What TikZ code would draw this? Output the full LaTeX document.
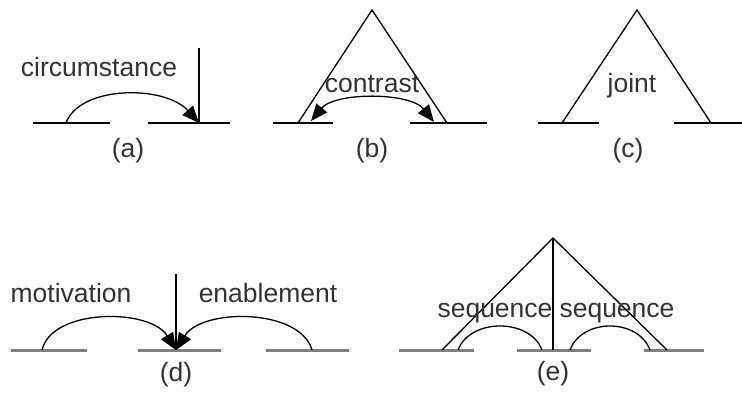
\documentclass[tikz,border=0pt]{standalone}
\usepackage{fontspec}
\setmainfont{Liberation Sans}
\usetikzlibrary{arrows.meta}
\begin{document}
\begin{tikzpicture}[x=1pt,y=-1pt,
  lbl/.style={font=\fontsize{26.5}{30}\selectfont, text=black!80, inner sep=0pt},
  baseA/.style={line width=1.9pt, black},
  baseB/.style={line width=3pt, black!50},
  ln/.style={line width=1.3pt, black},
  arr/.style={ln, -{Triangle[length=17pt,width=14pt]}},
  darr/.style={ln, {Triangle[length=17pt,width=14pt]}-{Triangle[length=17pt,width=14pt]}}]
\useasboundingbox (0,0) rectangle (742,398);
% ---------- (a)
\coordinate (a1) at (33,123); \coordinate (a2) at (110,123);
\coordinate (a3) at (148,123); \coordinate (a4) at (230,123);
\coordinate (aS) at (66,123); \coordinate (aT) at (199,123);
\coordinate (aTop) at (199,48);
\draw[baseA] (a1) -- (a2);
\draw[baseA] (a3) -- (a4);
\draw[ln] (aTop) -- (aT);
\draw[arr] (aS) .. controls (80,85) and (165,85) .. (aT);
\node[lbl] (circ) at (99,67) {circumstance};
\node[lbl] (la) at (128,151) {(a)};
% ---------- (b)
\coordinate (b1) at (273,123); \coordinate (b2) at (333,123);
\coordinate (b3) at (410,123); \coordinate (b4) at (487,123);
\coordinate (bA) at (372,10); \coordinate (bL) at (298,123); \coordinate (bR) at (447,123);
\coordinate (bS) at (311,121); \coordinate (bE) at (434,122);
\draw[baseA] (b1) -- (b2);
\draw[baseA] (b3) -- (b4);
\draw[ln] (bL) -- (bA) -- (bR);
\draw[darr] (bS) .. controls (335,92) and (410,92) .. (bE);
\node[lbl] (contr) at (372,84) {contrast};
\node[lbl] (lb) at (372,151) {(b)};
% ---------- (c)
\coordinate (c1) at (538,123); \coordinate (c2) at (599,123);
\coordinate (c3) at (674,123); \coordinate (c4) at (742,123);
\coordinate (cA) at (637,10); \coordinate (cL) at (562,123); \coordinate (cR) at (711,123);
\draw[baseA] (c1) -- (c2);
\draw[baseA] (c3) -- (c4);
\draw[ln] (cL) -- (cA) -- (cR);
\node[lbl] (joint) at (632,86) {joint};
\node[lbl] (lc) at (628,151) {(c)};
% ---------- (d)
\coordinate (d1) at (11,350); \coordinate (d2) at (87,350);
\coordinate (d3) at (138,350); \coordinate (d4) at (221,350);
\coordinate (d5) at (266,350); \coordinate (d6) at (349,350);
\coordinate (dTop) at (176,274); \coordinate (dT) at (176,350);
\coordinate (dS1) at (42,350); \coordinate (dS2) at (312,350);
\draw[baseB] (d1) -- (d2);
\draw[baseB] (d3) -- (d4);
\draw[baseB] (d5) -- (d6);
\draw[ln] (dTop) -- (dT);
\draw[arr] (dS1) .. controls (52,308) and (150,308) .. (dT);
\draw[arr] (dS2) .. controls (300,308) and (202,308) .. (dT);
\node[lbl] (motiv) at (71,293) {motivation};
\node[lbl] (enab) at (268,293) {enablement};
\node[lbl] (ld) at (176,375) {(d)};
% ---------- (e)
\coordinate (e1) at (399,350); \coordinate (e2) at (474,350);
\coordinate (e3) at (517,350); \coordinate (e4) at (591,350);
\coordinate (e5) at (644,350); \coordinate (e6) at (704,350);
\coordinate (eA) at (553,238); \coordinate (eL) at (442,350);
\coordinate (eR) at (667,350); \coordinate (eM) at (553,350);
\draw[baseB] (e1) -- (e2);
\draw[baseB] (e3) -- (e4);
\draw[baseB] (e5) -- (e6);
\draw[ln] (eL) -- (eA) -- (eR);
\draw[ln] (eA) -- (eM);
\coordinate (eS1) at (458,350); \coordinate (eE1) at (542,350);
\coordinate (eS2) at (570,350); \coordinate (eE2) at (650,350);
\draw[ln] (eS1) .. controls (470,318) and (530,318) .. (eE1);
\draw[ln] (eS2) .. controls (582,318) and (638,318) .. (eE2);
\node[lbl] (seq1) at (495,313) {sequence};
\node[lbl] (seq2) at (617,313) {sequence};
\node[lbl] (le) at (553,374) {(e)};
\end{tikzpicture}
\end{document}
